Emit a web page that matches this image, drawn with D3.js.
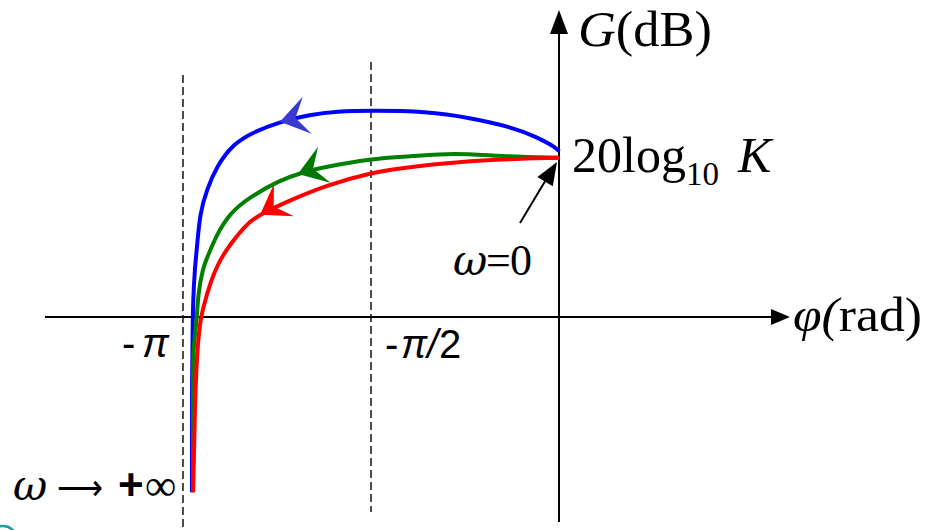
<!DOCTYPE html>
<html><head><meta charset="utf-8">
<script src="https://cdn.jsdelivr.net/npm/d3@7"></script>
<style>body{margin:0;background:#fff}svg{display:block}</style>
</head><body>
<svg id="chart" width="931" height="530"></svg>
<script>
// Nichols-type plot: gain G (dB) versus phase φ (degrees), 20log10 K taken as 20 dB.
const bluePhase  = [0, -1, -10.5, -23.5, -42.6, -63.2, -90.5, -106.3, -119.2, -133.6, -146.5, -156.1, -163.7, -168.5, -171.9, -173.3, -174.3, -175.2, -175.4, -175.7, -175.7, -175.7];
const blueGain   = [20.7, 21.1, 22.5, 23.8, 24.9, 25.7, 25.8, 25.7, 25.3, 24.4, 23.1, 21.6, 18.9, 16.0, 13.0, 8.7, 6.2, 2.0, -2, -8, -15, -21.9];
const greenPhase = [0, -28.2, -50.7, -70, -90.5, -113, -122.6, -133.6, -148, -157.5, -163.7, -168.5, -170.4, -172.8, -173.3, -174.3, -175.2, -175.2, -175.2];
const greenGain  = [19.9, 20.1, 20.5, 20.1, 19.8, 18.7, 18.1, 17.1, 15.0, 13.0, 10.4, 7.4, 6.2, 2.9, -0.1, -2.1, -4.7, -8.9, -21.9];
const redPhase   = [0, -31.6, -55.5, -76.1, -90.5, -111.1, -128.8, -141.7, -147.9, -154.1, -162.3, -167.1, -170.4, -171.4, -172.3, -173.3, -174.3, -174.7, -175.2];
const redGain    = [19.9, 19.7, 19.2, 18.6, 18.0, 16.5, 14.6, 13.0, 12.0, 10.2, 7.3, 4.2, 1.1, -0.1, -1.8, -4.7, -10.9, -17.2, -21.9];
const arrowPhase = {blue: -133.6, green: -125, red: -143.1};
const phaseTicks = [-180, -90];
const gainRef = 20;

const svg = d3.select("#chart");
const x = d3.scaleLinear().domain([-180, 0]).range([183, 559]);
const y = d3.scaleLinear().domain([0, 20]).range([317, 157]);
const serif = "'Liberation Serif','Times New Roman',serif";
const sans = "'Liberation Sans',Arial,sans-serif";
const greek = "'DejaVu Serif',serif";

// dashed phase guides at -π and -π/2
const guideTop = [75, 62], guideBottom = [530, 512];
phaseTicks.forEach((p, i) => {
  svg.append("line").attr("x1", x(p)).attr("x2", x(p))
    .attr("y1", guideTop[i]).attr("y2", guideBottom[i])
    .attr("stroke", "#222").attr("stroke-width", 1.6).attr("stroke-dasharray", "8,4");
});

// axes
const x0 = x(0), y0 = y(0);
svg.append("line").attr("x1", 45).attr("x2", 775).attr("y1", y0).attr("y2", y0)
  .attr("stroke", "#000").attr("stroke-width", 2);
svg.append("path").attr("d", `M790,${y0} L771,${y0-8} L771,${y0+8} Z`).attr("fill", "#000");
svg.append("line").attr("x1", x0).attr("x2", x0).attr("y1", 522).attr("y2", 30)
  .attr("stroke", "#000").attr("stroke-width", 2);
svg.append("path").attr("d", `M${x0},10 L${x0-9},34 L${x0+9},34 Z`).attr("fill", "#000");

// curves
const line = d3.line().x(d => x(d[0])).y(d => y(d[1])).curve(d3.curveBasis);
const series = [
  {name: "blue", phase: bluePhase, gain: blueGain, color: "#0000ff", head: "#3a3ad0"},
  {name: "green", phase: greenPhase, gain: greenGain, color: "#008000", head: "#007800"},
  {name: "red", phase: redPhase, gain: redGain, color: "#ff0000", head: "#ff0000"}
];
series.forEach(s => {
  svg.append("path").datum(d3.zip(s.phase, s.gain)).attr("d", line)
    .attr("fill", "none").attr("stroke", s.color).attr("stroke-width", 4)
    .attr("stroke-linejoin", "round");
});
series.forEach(s => {
  const tp = arrowPhase[s.name];
  let i = 0;
  while (i < s.phase.length - 2 && s.phase[i + 1] > tp) i++;
  const t = (tp - s.phase[i]) / (s.phase[i + 1] - s.phase[i]);
  const g = s.gain[i] + t * (s.gain[i + 1] - s.gain[i]);
  const dx = x(s.phase[i + 1]) - x(s.phase[i]);
  const dy = y(s.gain[i + 1]) - y(s.gain[i]);
  const ang = Math.atan2(dy, dx) * 180 / Math.PI;
  svg.append("path").attr("d", "M0,0 L-28,-19 L-16,0 L-28,19 Z")
    .attr("transform", `translate(${x(tp)},${y(g)}) rotate(${ang})`)
    .attr("fill", s.head);
});

// ω=0 pointer
const tipX = x(0) - 2, tipY = y(gainRef) + 5;
svg.append("line").attr("x1", 520).attr("y1", 223).attr("x2", tipX - 10).attr("y2", tipY + 16)
  .attr("stroke", "#000").attr("stroke-width", 2);
{
  const ux = tipX - 520, uy = tipY - 223, L = Math.hypot(ux, uy);
  const ex = ux / L, ey = uy / L, bx = tipX - 23 * ex, by = tipY - 23 * ey;
  svg.append("path").attr("d", `M${tipX},${tipY} L${bx + 9 * -ey},${by + 9 * ex} L${bx - 9 * -ey},${by - 9 * ex} Z`).attr("fill", "#000");
}

// labels
svg.append("text").attr("x", 578).attr("y", 46).attr("font-family", serif).attr("font-size", 50)
  .attr("textLength", 134).attr("lengthAdjust", "spacingAndGlyphs")
  .call(t => { t.append("tspan").attr("font-style", "italic").text("G"); t.append("tspan").text("(dB)"); });

const kl = svg.append("text").attr("x", 572).attr("y", 172).attr("font-family", serif).attr("font-size", 50);
kl.append("tspan").text("20log");
kl.append("tspan").attr("font-size", 33).attr("dy", 13).text("10");
kl.append("tspan").attr("x", 738).attr("dy", -13).attr("font-style", "italic").text("K");

svg.append("text").attr("x", 453).attr("y", 275).attr("font-family", greek).attr("font-style", "italic")
  .attr("font-size", 42).text("ω");
svg.append("text").attr("x", 486).attr("y", 275).attr("font-family", serif).attr("font-size", 44).text("=");
svg.append("text").attr("x", 510).attr("y", 275).attr("font-family", serif).attr("font-size", 44).text("0");

svg.append("text").attr("x", 793).attr("y", 331).attr("font-family", serif).attr("font-size", 48)
  .attr("textLength", 129).attr("lengthAdjust", "spacingAndGlyphs")
  .call(t => { t.append("tspan").attr("font-style", "italic").text("φ("); t.append("tspan").text("rad)"); });

// tick labels for -π and -π/2
const tickFont = 40;
svg.append("text").attr("x", 122).attr("y", 357).attr("font-family", sans).attr("font-size", tickFont).text("-");
svg.append("text").attr("x", 142).attr("y", 357).attr("font-family", sans).attr("font-style", "italic").attr("font-size", tickFont).text("π");
svg.append("text").attr("x", 385).attr("y", 358).attr("font-family", sans).attr("font-size", tickFont).text("-");
svg.append("text").attr("x", 401).attr("y", 358).attr("font-family", sans).attr("font-style", "italic").attr("font-size", tickFont)
  .attr("textLength", 37).attr("lengthAdjust", "spacingAndGlyphs").text("π/");
svg.append("text").attr("x", 439).attr("y", 358).attr("font-family", sans).attr("font-size", tickFont).text("2");

// ω → +∞
svg.append("text").attr("x", 13).attr("y", 500).attr("font-family", greek).attr("font-style", "italic")
  .attr("font-size", 42).text("ω");
svg.append("text").attr("x", 57).attr("y", 500).attr("font-family", "'DejaVu Sans',sans-serif").attr("font-size", 36)
  .attr("textLength", 46).attr("lengthAdjust", "spacingAndGlyphs").text("⟶");
svg.append("text").attr("x", 118).attr("y", 500).attr("font-family", sans).attr("font-weight", "bold").attr("font-size", 44).text("+");
svg.append("text").attr("x", 145).attr("y", 500).attr("font-family", serif).attr("font-size", 44).text("∞");

// small mark in the lower-left corner
svg.append("circle").attr("cx", 3).attr("cy", 540).attr("r", 14)
  .attr("fill", "none").attr("stroke", "#1e9e9e").attr("stroke-width", 2.5);
</script>
</body></html>
